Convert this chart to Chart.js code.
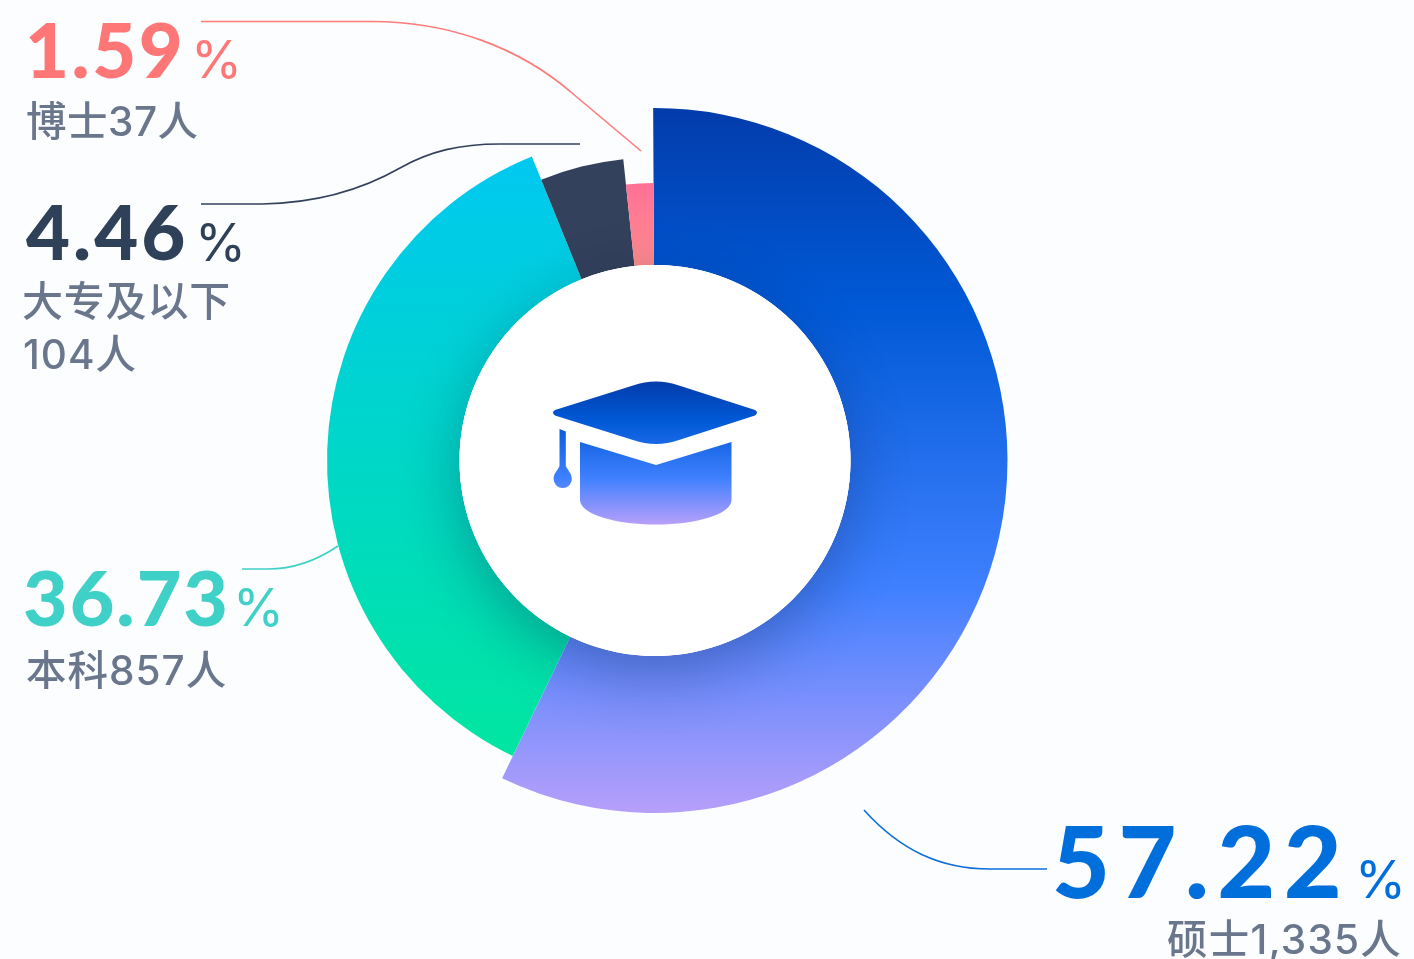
<!DOCTYPE html>
<html lang="zh">
<head>
<meta charset="utf-8">
<script src="https://cdn.jsdelivr.net/npm/chart.js@4/dist/chart.umd.js"></script>
<style>
html,body{margin:0;padding:0;background:#fcfdff;}
#wrap{position:relative;width:1414px;height:959px;overflow:hidden;}
canvas{display:block;}
</style>
</head>
<body>
<div id="wrap"><canvas id="c" width="1414" height="959"></canvas></div>
<script>
const categories = ['硕士', '本科', '大专及以下', '博士'];
const headcounts = [1335, 857, 104, 37];
const percentLabels = ['57.22', '36.73', '4.46', '1.59'];
const countLabels = ['硕士1,335人', '本科857人', '104人', '博士37人'];

const NUM_FONT = 'Lato, Roboto, sans-serif';
const PCT_FONT = 'Inter, Roboto, sans-serif';
const CJK_FONT = 'Inter, "Noto Sans CJK SC", sans-serif';
const GREY = '#6a768c';
const HOLE_RADIUS = 195.5;

const stops = {
  blue: [[0, '#033cab'], [0.28, '#0059d6'], [0.68, '#3f80ff'], [1, '#b69ffa']],
  teal: [[0, '#00c8f0'], [1, '#00e6a0']],
  dark: [[0, '#33415c'], [1, '#33415c']],
  pink: [[0, '#ff7095'], [1, '#ff8c8f']]
};
const ringStyle = [
  { outer: 352.5, stops: stops.blue, y0: 108, y1: 813 },
  { outer: 328, stops: stops.teal, y0: 155, y1: 757 },
  { outer: 303, stops: stops.dark, y0: 159, y1: 280 },
  { outer: 277.5, stops: stops.pink, y0: 183, y1: 265 }
];

const textLayout = [
  { pct: 0, x: 1052, y: 898, size: 100, spacing: 8.5, color: '#006fdb', px: 1355, py: 898, psize: 52 },
  { pct: 1, x: 23, y: 626, size: 77, spacing: 2, color: '#3fd0c7', px: 233, py: 626, psize: 52 },
  { pct: 2, x: 26, y: 260, size: 76, spacing: 3, color: '#2f4059', px: 195, py: 261, psize: 52 },
  { pct: 3, x: 25, y: 78, size: 76, spacing: 2.5, color: '#ff7676', px: 191, py: 78, psize: 52 }
];
const captionLayout = [
  { text: countLabels[0], x: 1167, y: 954, size: 40.5, spacing: 1.2 },
  { text: countLabels[1], x: 26, y: 685, size: 40.5, spacing: 1 },
  { text: categories[2], x: 22, y: 316, size: 41, spacing: 0.8 },
  { text: countLabels[2], x: 23, y: 369, size: 40.5, spacing: 1 },
  { text: countLabels[3], x: 26, y: 136, size: 40.5, spacing: 0.5 }
];

function grad(ctx, y0, y1, list) {
  const g = ctx.createLinearGradient(0, y0, 0, y1);
  list.forEach(s => g.addColorStop(s[0], s[1]));
  return g;
}

const tieredRadii = {
  id: 'tieredRadii',
  afterDatasetsUpdate(chart) {
    chart.getDatasetMeta(0).data.forEach((arc, i) => {
      arc.outerRadius = ringStyle[i].outer;
      arc.innerRadius = HOLE_RADIUS;
    });
  }
};

const decorations = {
  id: 'decorations',
  afterDatasetsDraw(chart) {
    const ctx = chart.ctx;
    const arc0 = chart.getDatasetMeta(0).data[0];
    const cx = arc0.x, cy = arc0.y, r = arc0.innerRadius;

    // centre disc with soft shadow falling on the ring
    ctx.save();
    ctx.beginPath();
    chart.getDatasetMeta(0).data.forEach(a => {
      ctx.moveTo(cx, cy);
      ctx.arc(cx, cy, a.outerRadius, a.startAngle, a.endAngle);
      ctx.closePath();
    });
    ctx.clip();
    ctx.shadowColor = 'rgba(10,20,60,0.3)';
    ctx.shadowBlur = 60;
    ctx.shadowOffsetY = 18;
    ctx.fillStyle = '#fff';
    ctx.beginPath();
    ctx.arc(cx, cy, r, 0, Math.PI * 2);
    ctx.fill();
    ctx.restore();
    ctx.save();
    ctx.fillStyle = '#fff';
    ctx.beginPath();
    ctx.arc(cx, cy, r, 0, Math.PI * 2);
    ctx.fill();
    ctx.restore();

    // graduation cap
    ctx.save();
    ctx.fillStyle = grad(ctx, 381, 524, stops.blue);
    ctx.lineJoin = 'round';
    const capPath = new Path2D();
    capPath.moveTo(555, 410);
    capPath.lineTo(633, 385.5);
    capPath.quadraticCurveTo(656, 377.5, 679, 385.5);
    capPath.lineTo(755, 410);
    capPath.quadraticCurveTo(759, 412.7, 755, 415.5);
    capPath.lineTo(679, 440);
    capPath.quadraticCurveTo(656, 448, 633, 440);
    capPath.lineTo(555, 415.5);
    capPath.quadraticCurveTo(551, 412.7, 555, 410);
    capPath.closePath();
    ctx.fill(capPath);
    const body = new Path2D();
    body.moveTo(580, 442);
    body.lineTo(656, 465);
    body.lineTo(731.5, 442);
    body.lineTo(731.5, 500);
    body.bezierCurveTo(731.5, 514, 697, 524.5, 656, 524.5);
    body.bezierCurveTo(615, 524.5, 580, 514, 580, 500);
    body.closePath();
    ctx.fill(body);
    const tassel = new Path2D();
    tassel.moveTo(559.5, 429);
    tassel.lineTo(565.8, 431.5);
    tassel.lineTo(565.8, 466);
    tassel.bezierCurveTo(568, 471, 571.8, 473, 571.8, 479);
    tassel.arc(562.7, 479, 9.1, 0, Math.PI);
    tassel.bezierCurveTo(553.6, 473, 557.5, 471, 559.5, 466);
    tassel.closePath();
    ctx.fill(tassel);
    ctx.restore();

    // leader lines
    const leaders = [
      { color: '#ff7a7a', draw(c) { c.moveTo(201, 21.5); c.lineTo(372, 21.5); c.bezierCurveTo(450, 21.5, 520, 48, 572, 93); c.lineTo(641, 151); } },
      { color: '#33415c', draw(c) { c.moveTo(201, 204); c.lineTo(262, 204); c.bezierCurveTo(320, 203, 365, 188, 400, 168); c.bezierCurveTo(430, 151, 460, 144, 500, 144); c.lineTo(580, 144); } },
      { color: '#3fd0c7', draw(c) { c.moveTo(242, 569); c.lineTo(268, 569); c.bezierCurveTo(292, 569, 316, 561, 338, 546); } },
      { color: '#0a6fdb', draw(c) { c.moveTo(864, 810); c.bezierCurveTo(900, 850, 940, 869, 990, 869); c.lineTo(1047, 869); } }
    ];
    leaders.forEach(l => {
      ctx.save();
      ctx.strokeStyle = l.color;
      ctx.lineWidth = 1.6;
      ctx.beginPath();
      l.draw(ctx);
      ctx.stroke();
      ctx.restore();
    });

    // texts
    ctx.save();
    ctx.textAlign = 'left';
    ctx.textBaseline = 'alphabetic';
    textLayout.forEach(t => {
      ctx.fillStyle = t.color;
      ctx.font = '900 ' + t.size + 'px ' + NUM_FONT;
      ctx.letterSpacing = t.spacing + 'px';
      ctx.fillText(percentLabels[t.pct], t.x, t.y);
      ctx.font = '400 ' + t.psize + 'px ' + PCT_FONT;
      ctx.letterSpacing = '0px';
      ctx.fillText('%', t.px, t.py);
    });
    ctx.fillStyle = GREY;
    captionLayout.forEach(t => {
      ctx.font = '500 ' + t.size + 'px ' + CJK_FONT;
      ctx.letterSpacing = t.spacing + 'px';
      ctx.fillText(t.text, t.x, t.y);
    });
    ctx.restore();
  }
};

new Chart(document.getElementById('c'), {
  type: 'doughnut',
  data: {
    labels: categories,
    datasets: [{
      data: headcounts,
      borderWidth: 0,
      backgroundColor(c) {
        const s = ringStyle[c.dataIndex];
        return s ? grad(c.chart.ctx, s.y0, s.y1, s.stops) : '#000';
      }
    }]
  },
  options: {
    responsive: false,
    animation: false,
    events: [],
    radius: 352.5,
    rotation: -0.3,
    layout: { padding: { left: 0, right: 104, top: 0, bottom: 38 } },
    plugins: { legend: { display: false }, tooltip: { enabled: false } }
  },
  plugins: [tieredRadii, decorations]
});
</script>
</body>
</html>
